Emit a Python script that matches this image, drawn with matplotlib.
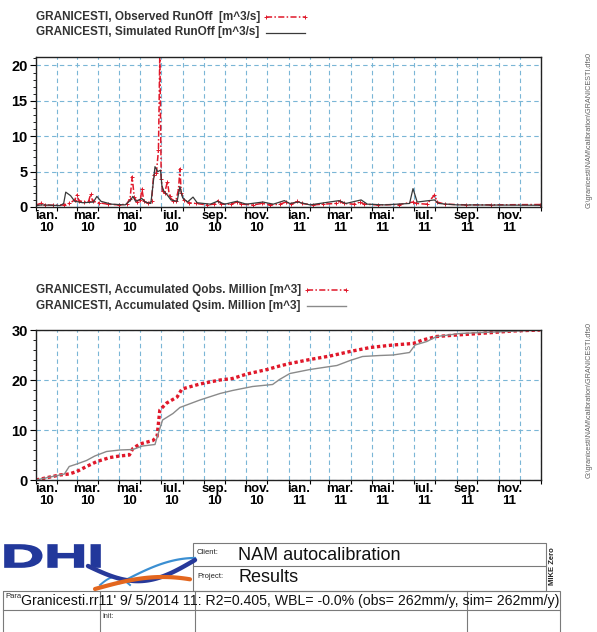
import numpy as np
import pandas as pd
import matplotlib
matplotlib.use("Agg")
import matplotlib.pyplot as plt
import matplotlib.dates as mdates
from matplotlib.ticker import MultipleLocator, FuncFormatter
from matplotlib.textpath import TextPath
from matplotlib.patches import PathPatch, Rectangle
from matplotlib.font_manager import FontProperties
from matplotlib.transforms import Affine2D

plt.rcParams['font.family'] = ['Liberation Sans', 'DejaVu Sans']

# --- daily runoff, breakpoints [m^3/s] ---
obs_dates = ['2010-01-01', '2010-01-08', '2010-01-14', '2010-01-25', '2010-02-10', '2010-02-18',
             '2010-02-26', '2010-03-01', '2010-03-04', '2010-03-12', '2010-03-18', '2010-03-21',
             '2010-03-24', '2010-04-02', '2010-04-15', '2010-05-01', '2010-05-12', '2010-05-17',
             '2010-05-20', '2010-05-23', '2010-05-27', '2010-06-01', '2010-06-03', '2010-06-06',
             '2010-06-12', '2010-06-17', '2010-06-20', '2010-06-24', '2010-06-27', '2010-06-29',
             '2010-07-01', '2010-07-03', '2010-07-06', '2010-07-10', '2010-07-13', '2010-07-18',
             '2010-07-22', '2010-07-26', '2010-07-28', '2010-07-30', '2010-08-03', '2010-08-10',
             '2010-08-20', '2010-09-05', '2010-09-15', '2010-09-21', '2010-09-26', '2010-10-10',
             '2010-10-18', '2010-10-25', '2010-11-10', '2010-11-24', '2010-12-05', '2010-12-20',
             '2010-12-28', '2011-01-05', '2011-01-14', '2011-01-20', '2011-02-05', '2011-02-20',
             '2011-03-10', '2011-03-16', '2011-03-22', '2011-04-05', '2011-04-15', '2011-04-20',
             '2011-05-10', '2011-06-10', '2011-06-30', '2011-07-05', '2011-07-20', '2011-07-31',
             '2011-08-04', '2011-08-15', '2011-09-15', '2011-10-20', '2011-12-31']
obs_q = [0.3, 0.5, 0.3, 0.25, 0.3, 0.5,
         1.0, 1.7, 0.9, 0.7, 0.8, 1.8,
         0.8, 0.6, 0.4, 0.3, 0.4, 1.2,
         4.3, 1.4, 0.7, 1.0, 2.6, 0.8,
         0.5, 0.8, 4.5, 4.8, 8.0, 22.0,
         4.0, 2.2, 2.0, 3.6, 1.5, 0.9,
         0.8, 2.5, 5.4, 2.0, 1.0, 0.6,
         0.5, 0.3, 0.4, 0.9, 0.4, 0.4,
         0.7, 0.4, 0.3, 0.5, 0.3, 0.4,
         0.7, 0.4, 0.8, 0.5, 0.3, 0.4,
         0.5, 0.8, 0.5, 0.4, 0.7, 0.4,
         0.3, 0.35, 0.7, 0.5, 0.4, 1.7,
         0.7, 0.4, 0.3, 0.3, 0.35]

sim_dates = ['2010-01-01', '2010-01-10', '2010-02-05', '2010-02-10', '2010-02-13', '2010-02-20',
             '2010-02-26', '2010-03-10', '2010-03-25', '2010-03-30', '2010-04-05', '2010-04-20',
             '2010-05-10', '2010-05-18', '2010-05-21', '2010-05-25', '2010-06-03', '2010-06-08',
             '2010-06-16', '2010-06-19', '2010-06-22', '2010-06-26', '2010-06-30', '2010-07-02',
             '2010-07-05', '2010-07-09', '2010-07-15', '2010-07-24', '2010-07-28', '2010-08-01',
             '2010-08-08', '2010-08-16', '2010-08-22', '2010-09-10', '2010-09-20', '2010-10-01',
             '2010-10-18', '2010-11-01', '2010-11-25', '2010-12-10', '2010-12-26', '2011-01-03',
             '2011-01-15', '2011-02-01', '2011-03-15', '2011-03-25', '2011-04-16', '2011-04-25',
             '2011-05-20', '2011-06-25', '2011-06-30', '2011-07-06', '2011-07-31', '2011-08-06',
             '2011-09-01', '2011-12-31']
sim_q = [0.2, 0.3, 0.2, 0.5, 2.1, 1.6,
         0.8, 0.6, 0.7, 1.5, 0.8, 0.4,
         0.3, 1.0, 1.5, 0.8, 1.2, 0.7,
         0.5, 3.0, 5.7, 5.0, 5.2, 3.0,
         2.2, 1.8, 1.0, 0.8, 2.9, 1.3,
         0.7, 1.4, 0.6, 0.4, 0.8, 0.4,
         0.8, 0.4, 0.7, 0.4, 0.9, 0.5,
         0.7, 0.3, 0.9, 0.5, 1.0, 0.4,
         0.3, 0.5, 2.6, 0.7, 1.0, 0.5,
         0.3, 0.25]

# --- accumulated volumes [million m^3] ---
acc_obs_dates = ['2010-01-01', '2010-02-04', '2010-02-18', '2010-03-01', '2010-03-15', '2010-03-30',
                 '2010-04-18', '2010-05-02', '2010-05-16', '2010-05-21', '2010-05-31', '2010-06-19',
                 '2010-06-25', '2010-06-29', '2010-07-09', '2010-07-24', '2010-07-31', '2010-08-26',
                 '2010-09-24', '2010-10-12', '2010-11-02', '2010-12-01', '2010-12-19', '2011-01-03',
                 '2011-02-01', '2011-03-02', '2011-03-31', '2011-04-29', '2011-06-01', '2011-06-30',
                 '2011-07-14', '2011-08-03', '2011-09-01', '2011-10-04', '2011-11-21', '2011-12-31']
acc_obs = [0.0, 1.0, 1.2, 1.7, 2.7, 3.7,
           4.5, 4.8, 5.0, 6.3, 7.2, 7.9,
           8.7, 14.0, 15.4, 16.6, 18.2, 19.2,
           20.0, 20.3, 21.2, 22.1, 22.8, 23.3,
           24.1, 24.8, 25.7, 26.5, 27.0, 27.3,
           28.0, 28.7, 29.0, 29.3, 29.8, 30.0]

acc_sim_dates = ['2010-01-01', '2010-01-25', '2010-02-11', '2010-02-18', '2010-03-01', '2010-03-15',
                 '2010-03-27', '2010-04-13', '2010-05-02', '2010-05-21', '2010-06-04', '2010-06-22',
                 '2010-06-26', '2010-07-03', '2010-07-18', '2010-07-28', '2010-08-26', '2010-09-24',
                 '2010-10-12', '2010-11-10', '2010-12-09', '2010-12-19', '2011-01-03', '2011-02-01',
                 '2011-03-02', '2011-03-12', '2011-03-31', '2011-04-18', '2011-05-13', '2011-06-01',
                 '2011-06-25', '2011-07-03', '2011-07-20', '2011-08-03', '2011-09-06', '2011-12-31']
acc_sim = [0.0, 0.7, 1.2, 2.7, 3.2, 3.9,
           4.8, 5.7, 6.0, 6.1, 6.8, 7.1,
           9.0, 12.0, 13.3, 14.5, 16.0, 17.3,
           17.9, 18.7, 19.1, 20.1, 21.3, 22.1,
           22.7, 22.9, 23.9, 24.7, 24.9, 25.0,
           25.5, 27.0, 27.7, 28.7, 29.3, 30.0]

month_ro = ['ian', 'feb', 'mar', 'apr', 'mai', 'iun', 'iul', 'aug', 'sep', 'oct', 'nov', 'dec']
legend_top = ['GRANICESTI, Observed RunOff  [m^3/s]', 'GRANICESTI, Simulated RunOff [m^3/s]']
legend_bot = ['GRANICESTI, Accumulated Qobs. Million [m^3]',
              'GRANICESTI, Accumulated Qsim. Million [m^3]']

RED = '#e0182a'
GRID = '#7ab6d6'
W, H = 597, 632

fig = plt.figure(figsize=(W / 100, H / 100), dpi=100)

# full-figure overlay in pixel coordinates for legends and the title block
ov = fig.add_axes([0, 0, 1, 1])
ov.set_xlim(0, W)
ov.set_ylim(H, 0)
ov.axis('off')

OBS_STYLE = dict(color=RED, linestyle=(0, (4, 1.5, 1, 1.5)), linewidth=1.1,
                 marker='+', markersize=2.5, markeredgewidth=0.7)
SIM_STYLE = dict(color='#3a3a3a', linewidth=0.9)
ACC_OBS_STYLE = dict(color=RED, linestyle=(0, (1, 0.8)), linewidth=2.4)
ACC_SIM_STYLE = dict(color='#8a8a8a', linewidth=1.0)


def month_label(x, pos):
    d = mdates.num2date(x)
    return f"{month_ro[d.month - 1]}.\n{d.year % 100:02d}"


def style_axes(ax):
    ax.set_xlim(pd.Timestamp('2010-01-01'), pd.Timestamp('2012-01-01'))
    ax.xaxis.set_major_locator(mdates.MonthLocator())
    ax.xaxis.set_major_formatter(plt.NullFormatter())
    ax.xaxis.set_minor_locator(mdates.MonthLocator(bymonth=[1, 3, 5, 7, 9, 11], bymonthday=16))
    ax.xaxis.set_minor_formatter(FuncFormatter(month_label))
    ax.tick_params(axis='x', which='major', length=3, width=0.8, direction='out')
    ax.tick_params(axis='x', which='minor', length=0, pad=2, labelsize=9.5)
    ax.tick_params(axis='y', which='major', length=4, width=0.8, labelsize=10.5, pad=2)
    ax.tick_params(axis='y', which='minor', length=2, width=0.6)
    for lbl in ax.get_yticklabels():
        lbl.set_fontweight('bold')
    for lbl in ax.get_xticklabels(minor=True):
        lbl.set_fontweight('bold')
        lbl.set_linespacing(1.05)
    ax.grid(True, which='major', color=GRID, linestyle=(0, (4, 3)), linewidth=0.8)
    for s in ax.spines.values():
        s.set_linewidth(1.0)
        s.set_color('#222222')


def draw_legend(y0, x_sample, labels, styles):
    for i, (lab, st) in enumerate(zip(labels, styles)):
        y = y0 + 15.5 * i
        ov.text(36, y, lab, fontsize=8.5, fontweight='bold', color='#333333', va='center')
        ov.plot([x_sample, x_sample + 39], [y, y], **st)


# ---- runoff ----
ax1 = fig.add_axes([36 / W, 1 - 207 / H, 505 / W, 150 / H])
ax1.plot(pd.to_datetime(obs_dates), obs_q, **OBS_STYLE)
ax1.plot(pd.to_datetime(sim_dates), sim_q, **SIM_STYLE)
ax1.set_ylim(0, 21.2)
ax1.yaxis.set_major_locator(MultipleLocator(5))
ax1.yaxis.set_minor_locator(MultipleLocator(1))
style_axes(ax1)
draw_legend(17, 266, legend_top, [OBS_STYLE, SIM_STYLE])

# ---- accumulated ----
ax2 = fig.add_axes([36 / W, 1 - 480 / H, 505 / W, 150 / H])
ax2.plot(pd.to_datetime(acc_obs_dates), acc_obs, **ACC_OBS_STYLE)
ax2.plot(pd.to_datetime(acc_sim_dates), acc_sim, **ACC_SIM_STYLE)
ax2.set_ylim(0, 30)
ax2.yaxis.set_major_locator(MultipleLocator(10))
ax2.yaxis.set_minor_locator(MultipleLocator(2))
style_axes(ax2)
draw_legend(290, 307, legend_bot, [OBS_STYLE, ACC_SIM_STYLE])

# file path printed down the right edge
path_txt = r'G:\granicesti\NAM\calibration\GRANICESTI.dfs0'
ov.text(589, 130, path_txt, rotation=90, ha='center', va='center', fontsize=5.2, color='#606060')
ov.text(589, 400, path_txt, rotation=90, ha='center', va='center', fontsize=5.2, color='#606060')

# ---- DHI logo ----
tp = TextPath((0, 0), 'DHI', size=1, prop=FontProperties(family='Liberation Sans', weight='bold'))
bb = tp.get_extents()
sx, sy = 95 / bb.width, 22 / bb.height
tr = Affine2D().translate(-bb.x0, -bb.y0).scale(sx, -sy).translate(5, 567)
ov.add_patch(PathPatch(tr.transform_path(tp), facecolor='#22389b', edgecolor='#22389b', lw=1.2))

t = np.linspace(0, 1, 60)
ov.plot(100 + 30 * t, 585 - 8 * np.sin(np.pi * t), color='#3b8fd2', lw=1.4)
ov.plot(120 + 75 * t, 583 - 25 * np.sin(0.5 * np.pi * t), color='#3b8fd2', lw=1.6)
ov.plot(88 + 107 * t, 566 + 18 * np.sin(np.pi * t) - 6 * t, color='#27399a', lw=3.2,
        solid_capstyle='round')
ov.plot(95 + 95 * t, 589 - 12 * np.sin(0.7 * np.pi * t), color='#e3661e', lw=3.0,
        solid_capstyle='round')

# ---- title block ----
LC = '#7a7a7a'
ov.add_patch(Rectangle((193, 543), 353, 48, fill=False, ec=LC, lw=0.8))
ov.plot([193, 546], [566, 566], color=LC, lw=0.8)
ov.add_patch(Rectangle((3, 591), 557, 45, fill=False, ec=LC, lw=0.8))
ov.plot([3, 560], [610, 610], color=LC, lw=0.8)
for xv in (100, 195, 467):
    ov.plot([xv, xv], [591, 632], color=LC, lw=0.8)

ov.text(197, 553, 'Client:', fontsize=5.5, va='center', color='#222222')
ov.text(238, 555, 'NAM autocalibration', fontsize=13, va='center', color='#111111')
ov.text(197, 576, 'Project:', fontsize=5.5, va='center', color='#222222')
ov.text(238, 578, 'Results', fontsize=13, va='center', color='#111111')
ov.text(5, 597, 'Para', fontsize=5.5, va='center', color='#222222')
ov.text(21, 601, "Granicesti.rr11' 9/ 5/2014 11: R2=0.405, WBL= -0.0% (obs= 262mm/y, sim= 262mm/y)",
        fontsize=10.2, va='center', color='#111111')
ov.text(102, 617, 'Init:', fontsize=5, va='center', color='#333333')
ov.text(553, 566, 'MIKE Zero', rotation=90, ha='center', va='center', fontsize=5.5,
        fontweight='bold', color='#222222')

fig.savefig('out.png', dpi=100)
